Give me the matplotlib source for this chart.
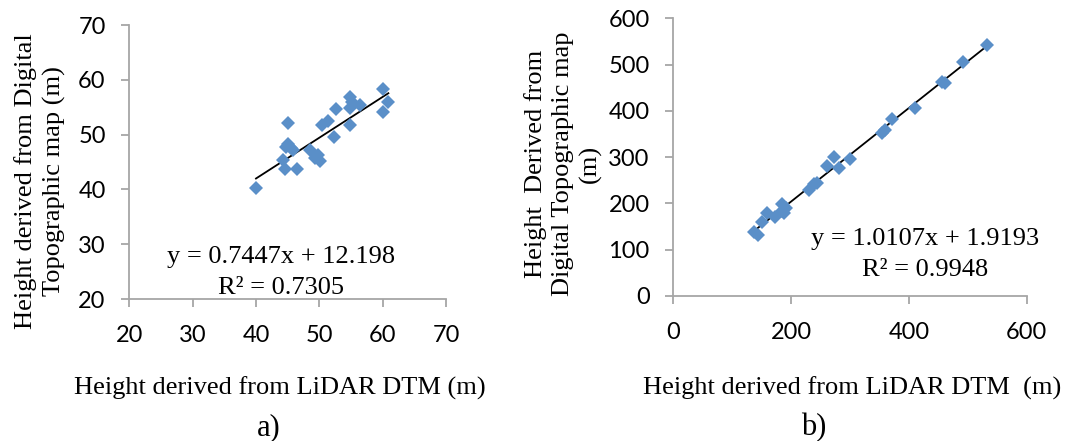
import numpy as np
import matplotlib
matplotlib.use('Agg')
import matplotlib.pyplot as plt

# panel a) data (m)
lidar_a = [40.0, 45.0, 44.3, 44.6, 46.5, 44.8, 45.6, 45.1, 45.9, 48.5, 49.3, 49.8,
           50.1, 50.4, 51.4, 52.3, 52.7, 54.8, 55.1, 54.8, 56.4, 54.8, 60.0, 60.9, 60.0]
topo_a = [40.2, 52.1, 45.4, 43.8, 43.8, 47.8, 47.5, 48.3, 47.1, 47.2, 45.7, 46.3,
          45.1, 51.8, 52.4, 49.5, 54.6, 56.8, 56.0, 54.8, 55.4, 51.8, 58.4, 56.0, 54.2]
slope_a, icpt_a = 0.7447, 12.198

# panel b) data (m)
lidar_b = [137.5, 144.3, 150.0, 159.6, 172.6, 184.0, 188.0, 190.7, 185.0, 230.9, 238.8,
           243.3, 261.5, 272.8, 281.3, 300.0, 353.7, 359.4, 370.7, 410.9, 455.6, 461.2,
           491.2, 532.0]
topo_b = [137.6, 131.8, 160.7, 180.0, 170.7, 198.8, 178.7, 189.5, 184.0, 229.0, 241.4,
          245.0, 281.0, 299.7, 276.0, 295.4, 353.0, 358.8, 381.8, 405.6, 463.3, 459.7,
          505.0, 542.5]
slope_b, icpt_b = 1.0107, 1.9193

W, H = 1069, 441
blue = '#5A8FC8'
grey = '#A6A6A6'
tick_font = 'Lato'
serif = 'Liberation Serif'

fig = plt.figure(figsize=(W / 100, H / 100), dpi=100)


def px_axes(l, r, t, b):
    return fig.add_axes([l / W, 1 - b / H, (r - l) / W, (b - t) / H])


def style(ax):
    for s in ['top', 'right']:
        ax.spines[s].set_visible(False)
    for s in ['left', 'bottom']:
        ax.spines[s].set_color(grey)
        ax.spines[s].set_linewidth(1.3)
    ax.tick_params(direction='out', length=6, width=1.3, color=grey, labelsize=17)
    ax.tick_params(axis='x', pad=13)
    ax.tick_params(axis='y', pad=11)
    for lab in ax.get_xticklabels() + ax.get_yticklabels():
        lab.set_fontfamily(tick_font)


def ftext(x, y, s, size=19, **kw):
    fig.text(x / W, 1 - y / H, s, family=serif, fontsize=size, ha='center', va='center', **kw)


# a)
ax1 = px_axes(129.3, 446, 25, 299)
ax1.plot(lidar_a, topo_a, 'D', color=blue, ms=7.5, mew=0, zorder=3)
xa = np.array([min(lidar_a), max(lidar_a)])
ax1.plot(xa, slope_a * xa + icpt_a, color='black', lw=1.3, zorder=2)
ax1.set_xlim(20, 70)
ax1.set_ylim(20, 70)
ax1.set_xticks(range(20, 71, 10))
ax1.set_yticks(range(20, 71, 10))
style(ax1)

# b)
ax2 = px_axes(673.3, 1026.7, 18.3, 296)
ax2.plot(lidar_b, topo_b, 'D', color=blue, ms=7.5, mew=0, zorder=3)
xb = np.array([min(lidar_b), max(lidar_b)])
ax2.plot(xb, slope_b * xb + icpt_b, color='black', lw=1.3, zorder=2)
ax2.set_xlim(0, 600)
ax2.set_ylim(0, 600)
ax2.set_xticks(range(0, 601, 200))
ax2.set_yticks(range(0, 601, 100))
style(ax2)

# labels and annotations
ftext(40, 181, 'Height derived from Digital\nTopographic map (m)', rotation=90,
      multialignment='center', linespacing=1.3)
ftext(280, 388, 'Height derived from LiDAR DTM (m)')
ftext(269, 428, 'a)', size=22)
ftext(281, 257, 'y = 0.7447x + 12.198')
ftext(281, 288, 'R² = 0.7305')

ftext(563, 164, 'Height  Derived from\nDigital Topographic map\n(m)', rotation=90,
      multialignment='center', linespacing=1.3)
ftext(852, 388, 'Height derived from LiDAR DTM  (m)')
ftext(814, 428, 'b)', size=22)
ftext(925, 239, 'y = 1.0107x + 1.9193')
ftext(925, 270, 'R² = 0.9948')

plt.savefig('out.png', dpi=100)
plt.close()
